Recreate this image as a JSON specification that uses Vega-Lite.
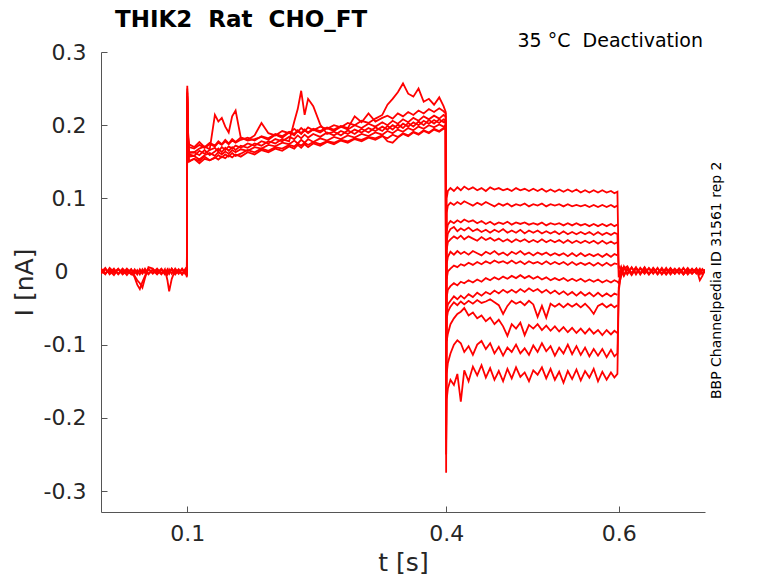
{
  "$schema": "https://vega.github.io/schema/vega-lite/v6.json",
  "width": 604,
  "height": 460,
  "autosize": "none",
  "padding": {"left": 101, "top": 52, "right": 73, "bottom": 71},
  "title": {
    "text": "THIK2\u00a0 Rat\u00a0 CHO_FT",
    "anchor": "start",
    "frame": "group",
    "dx": 14,
    "offset": 0,
    "font": "DejaVu Sans",
    "fontSize": 23,
    "fontWeight": "bold",
    "color": "black"
  },
  "layer": [
    {
      "data": {
        "values": [
          {"t":0,"s1":0.002,"s4":-0.003,"s8":0.004,"s12":-0.001,"s13":0},
          {"t":0.005,"s1":-0.004,"s4":0.003,"s8":-0.002,"s12":0.005,"s13":-0.003},
          {"t":0.01,"s1":0.005,"s4":-0.002,"s8":0.001,"s12":-0.004,"s13":0.003},
          {"t":0.015,"s1":-0.001,"s4":0.004,"s8":-0.005,"s12":0.002,"s13":-0.002},
          {"t":0.02,"s1":0.003,"s4":-0.004,"s8":0.003,"s12":-0.003,"s13":0.004},
          {"t":0.025,"s1":-0.003,"s4":0.002,"s8":-0.001,"s12":0.004,"s13":-0.004},
          {"t":0.03,"s1":0.004,"s4":-0.005,"s8":0.002,"s12":-0.002,"s13":0.001},
          {"t":0.035,"s1":-0.002,"s4":0.003,"s8":-0.004,"s12":0.003,"s13":-0.003},
          {"t":0.039,"s1":0.001,"s4":-0.003,"s8":0.003,"s12":-0.008,"s13":-0.006},
          {"t":0.042,"s1":-0.004,"s4":0.002,"s8":-0.002,"s12":-0.018,"s13":-0.012},
          {"t":0.045,"s1":0.003,"s4":-0.004,"s8":0.001,"s12":-0.024,"s13":-0.016},
          {"t":0.048,"s1":-0.002,"s4":0.003,"s8":-0.003,"s12":-0.014,"s13":-0.022},
          {"t":0.051,"s1":0.004,"s4":-0.002,"s8":0.002,"s12":-0.006,"s13":-0.009},
          {"t":0.055,"s1":-0.003,"s4":0.004,"s8":-0.004,"s12":0.003,"s13":0.006},
          {"t":0.06,"s1":0.002,"s4":-0.003,"s8":0.003,"s12":-0.002,"s13":0.004},
          {"t":0.065,"s1":-0.004,"s4":0.002,"s8":-0.002,"s12":0.004,"s13":-0.003},
          {"t":0.07,"s1":0.003,"s4":-0.004,"s8":0.004,"s12":-0.003,"s13":0.002},
          {"t":0.074,"s1":-0.002,"s4":0.003,"s8":-0.003,"s12":0.002,"s13":-0.004},
          {"t":0.077,"s1":0.002,"s4":-0.012,"s8":0.001,"s12":-0.004,"s13":0.003},
          {"t":0.079,"s1":-0.003,"s4":-0.027,"s8":-0.002,"s12":0.003,"s13":-0.002},
          {"t":0.082,"s1":0.004,"s4":-0.01,"s8":0.003,"s12":-0.003,"s13":0.004},
          {"t":0.086,"s1":-0.002,"s4":0.002,"s8":-0.004,"s12":0.004,"s13":-0.003},
          {"t":0.09,"s1":0.003,"s4":-0.003,"s8":0.002,"s12":-0.002,"s13":0.002},
          {"t":0.094,"s1":-0.004,"s4":0.004,"s8":-0.003,"s12":0.003,"s13":-0.004},
          {"t":0.098,"s1":0.002,"s4":-0.002,"s8":0.004,"s12":-0.004,"s13":0.003},
          {"t":0.0995,"s1":-0.006,"s4":-0.003,"s8":-0.008,"s12":-0.004,"s13":-0.005},
          {"t":0.1,"s1":0.254,"s2":0.246,"s4":0.24,"s6":0.236,"s8":0.244,"s10":0.232,"s12":0.25,"s13":0.238},
          {"t":0.1006,"s1":0.195,"s2":0.18,"s4":0.185,"s6":0.178,"s8":0.19,"s10":0.176,"s12":0.188,"s13":0.172},
          {"t":0.102,"s1":0.174,"s2":0.151,"s4":0.163,"s6":0.157,"s8":0.16,"s10":0.162,"s12":0.17,"s13":0.15},
          {"t":0.108,"s1":0.17,"s2":0.154,"s4":0.163,"s6":0.158,"s8":0.158,"s10":0.163,"s12":0.168,"s13":0.154},
          {"t":0.114,"s1":0.177,"s2":0.148,"s4":0.168,"s6":0.153,"s8":0.165,"s10":0.159,"s12":0.173,"s13":0.151},
          {"t":0.12,"s1":0.17,"s2":0.154,"s4":0.171,"s6":0.159,"s8":0.161,"s10":0.166,"s12":0.169,"s13":0.157},
          {"t":0.126,"s1":0.176,"s2":0.152,"s4":0.167,"s6":0.162,"s8":0.166,"s10":0.159,"s12":0.174,"s13":0.152},
          {"t":0.132,"s1":0.172,"s2":0.156,"s4":0.214,"s6":0.158,"s8":0.169,"s10":0.164,"s12":0.171,"s13":0.155},
          {"t":0.136,"s1":0.178,"s2":0.153,"s4":0.205,"s6":0.163,"s8":0.164,"s10":0.168,"s12":0.176,"s13":0.159},
          {"t":0.14,"s1":0.174,"s2":0.157,"s4":0.21,"s6":0.16,"s8":0.17,"s10":0.163,"s12":0.173,"s13":0.156},
          {"t":0.144,"s1":0.18,"s2":0.155,"s4":0.198,"s6":0.164,"s8":0.166,"s10":0.169,"s12":0.178,"s13":0.16},
          {"t":0.148,"s1":0.175,"s2":0.159,"s4":0.19,"s6":0.161,"s8":0.171,"s10":0.165,"s12":0.174,"s13":0.157},
          {"t":0.152,"s1":0.181,"s2":0.156,"s4":0.212,"s6":0.166,"s8":0.168,"s10":0.17,"s12":0.179,"s13":0.162},
          {"t":0.156,"s1":0.177,"s2":0.16,"s4":0.22,"s6":0.163,"s8":0.172,"s10":0.166,"s12":0.176,"s13":0.158},
          {"t":0.162,"s1":0.183,"s2":0.157,"s4":0.183,"s6":0.167,"s8":0.169,"s10":0.172,"s12":0.18,"s13":0.161},
          {"t":0.17,"s1":0.18,"s2":0.163,"s4":0.179,"s6":0.165,"s8":0.175,"s10":0.169,"s12":0.183,"s13":0.166},
          {"t":0.178,"s1":0.186,"s2":0.16,"s4":0.181,"s6":0.17,"s8":0.172,"s10":0.175,"s12":0.179,"s13":0.163},
          {"t":0.186,"s1":0.203,"s2":0.166,"s4":0.184,"s6":0.168,"s8":0.178,"s10":0.172,"s12":0.185,"s13":0.168},
          {"t":0.194,"s1":0.189,"s2":0.163,"s4":0.18,"s6":0.173,"s8":0.175,"s10":0.178,"s12":0.182,"s13":0.165},
          {"t":0.202,"s1":0.186,"s2":0.168,"s4":0.187,"s6":0.171,"s8":0.181,"s10":0.175,"s12":0.188,"s13":0.17},
          {"t":0.21,"s1":0.192,"s2":0.165,"s4":0.183,"s6":0.176,"s8":0.178,"s10":0.181,"s12":0.185,"s13":0.168},
          {"t":0.218,"s1":0.189,"s2":0.171,"s4":0.19,"s6":0.174,"s8":0.184,"s10":0.178,"s12":0.191,"s13":0.173},
          {"t":0.224,"s1":0.195,"s2":0.168,"s4":0.186,"s6":0.179,"s8":0.181,"s10":0.205,"s12":0.188,"s13":0.171},
          {"t":0.228,"s1":0.191,"s2":0.173,"s4":0.192,"s6":0.175,"s8":0.186,"s10":0.222,"s12":0.193,"s13":0.175},
          {"t":0.232,"s1":0.196,"s2":0.169,"s4":0.188,"s6":0.18,"s8":0.182,"s10":0.247,"s12":0.189,"s13":0.172},
          {"t":0.236,"s1":0.192,"s2":0.174,"s4":0.193,"s6":0.176,"s8":0.187,"s10":0.214,"s12":0.194,"s13":0.176},
          {"t":0.24,"s1":0.197,"s2":0.17,"s4":0.189,"s6":0.181,"s8":0.183,"s10":0.236,"s12":0.19,"s13":0.173},
          {"t":0.246,"s1":0.193,"s2":0.175,"s4":0.194,"s6":0.177,"s8":0.188,"s10":0.226,"s12":0.195,"s13":0.177},
          {"t":0.254,"s1":0.198,"s2":0.172,"s4":0.19,"s6":0.182,"s8":0.184,"s10":0.201,"s12":0.192,"s13":0.174},
          {"t":0.262,"s1":0.195,"s2":0.177,"s4":0.196,"s6":0.179,"s8":0.19,"s10":0.188,"s12":0.197,"s13":0.178},
          {"t":0.27,"s1":0.2,"s2":0.174,"s4":0.192,"s6":0.184,"s8":0.186,"s10":0.191,"s12":0.194,"s13":0.176},
          {"t":0.278,"s1":0.197,"s2":0.179,"s4":0.198,"s6":0.181,"s8":0.192,"s10":0.186,"s12":0.199,"s13":0.18},
          {"t":0.286,"s1":0.203,"s2":0.176,"s4":0.194,"s6":0.186,"s8":0.188,"s10":0.193,"s12":0.196,"s13":0.178},
          {"t":0.294,"s1":0.2,"s2":0.181,"s4":0.2,"s6":0.183,"s8":0.194,"s10":0.188,"s12":0.212,"s13":0.182},
          {"t":0.302,"s1":0.206,"s2":0.178,"s4":0.196,"s6":0.188,"s8":0.19,"s10":0.195,"s12":0.204,"s13":0.18},
          {"t":0.31,"s1":0.203,"s2":0.183,"s4":0.202,"s6":0.185,"s8":0.196,"s10":0.19,"s12":0.216,"s13":0.184},
          {"t":0.318,"s1":0.209,"s2":0.18,"s4":0.198,"s6":0.19,"s8":0.192,"s10":0.197,"s12":0.205,"s13":0.182},
          {"t":0.326,"s1":0.214,"s2":0.185,"s4":0.204,"s6":0.187,"s8":0.198,"s10":0.192,"s12":0.21,"s13":0.186},
          {"t":0.332,"s1":0.228,"s2":0.182,"s4":0.2,"s6":0.192,"s8":0.194,"s10":0.199,"s12":0.213,"s13":0.178},
          {"t":0.338,"s1":0.236,"s2":0.187,"s4":0.206,"s6":0.189,"s8":0.2,"s10":0.194,"s12":0.209,"s13":0.176},
          {"t":0.344,"s1":0.245,"s2":0.184,"s4":0.202,"s6":0.194,"s8":0.196,"s10":0.201,"s12":0.216,"s13":0.183},
          {"t":0.35,"s1":0.257,"s2":0.189,"s4":0.208,"s6":0.191,"s8":0.202,"s10":0.196,"s12":0.212,"s13":0.188},
          {"t":0.356,"s1":0.243,"s2":0.186,"s4":0.204,"s6":0.196,"s8":0.198,"s10":0.203,"s12":0.218,"s13":0.185},
          {"t":0.362,"s1":0.239,"s2":0.191,"s4":0.21,"s6":0.193,"s8":0.204,"s10":0.198,"s12":0.214,"s13":0.19},
          {"t":0.368,"s1":0.25,"s2":0.188,"s4":0.206,"s6":0.198,"s8":0.2,"s10":0.205,"s12":0.22,"s13":0.187},
          {"t":0.374,"s1":0.232,"s2":0.193,"s4":0.212,"s6":0.195,"s8":0.206,"s10":0.2,"s12":0.216,"s13":0.192},
          {"t":0.38,"s1":0.236,"s2":0.19,"s4":0.208,"s6":0.2,"s8":0.202,"s10":0.207,"s12":0.222,"s13":0.189},
          {"t":0.386,"s1":0.228,"s2":0.195,"s4":0.213,"s6":0.197,"s8":0.207,"s10":0.202,"s12":0.218,"s13":0.194},
          {"t":0.392,"s1":0.238,"s2":0.192,"s4":0.209,"s6":0.201,"s8":0.203,"s10":0.208,"s12":0.223,"s13":0.191},
          {"t":0.397,"s1":0.226,"s2":0.196,"s4":0.214,"s6":0.198,"s8":0.208,"s10":0.204,"s12":0.219,"s13":0.195},
          {"t":0.3995,"s1":0.218,"s2":0.194,"s4":0.212,"s6":0.2,"s8":0.206,"s10":0.205,"s12":0.216,"s13":0.197},
          {"t":0.4,"s1":-0.275,"s2":-0.21,"s4":-0.17,"s6":-0.15,"s8":-0.19,"s10":-0.16,"s12":-0.23,"s13":-0.25},
          {"t":0.4006,"s1":0.1,"s2":0.08,"s3":0.055,"s4":0.04,"s5":0.03,"s6":0.01,"s7":-0.01,"s8":-0.035,"s9":-0.055,"s10":-0.065,"s11":-0.095,"s12":-0.14,"s13":-0.175},
          {"t":0.402,"s1":0.11,"s2":0.09,"s3":0.064,"s4":0.052,"s5":0.04,"s6":0.02,"s7":0,"s8":-0.025,"s9":-0.045,"s10":-0.055,"s11":-0.085,"s12":-0.125,"s13":-0.16},
          {"t":0.405,"s1":0.114,"s2":0.094,"s3":0.069,"s4":0.058,"s5":0.044,"s6":0.027,"s7":0.004,"s8":-0.02,"s9":-0.04,"s10":-0.048,"s11":-0.072,"s12":-0.112,"s13":-0.148},
          {"t":0.409,"s1":0.11,"s2":0.091,"s3":0.066,"s4":0.061,"s5":0.048,"s6":0.023,"s7":0.008,"s8":-0.016,"s9":-0.034,"s10":-0.042,"s11":-0.064,"s12":-0.1,"s13":-0.155},
          {"t":0.413,"s1":0.115,"s2":0.095,"s3":0.07,"s4":0.055,"s5":0.045,"s6":0.028,"s7":0.006,"s8":-0.019,"s9":-0.038,"s10":-0.046,"s11":-0.058,"s12":-0.094,"s13":-0.14},
          {"t":0.417,"s1":0.111,"s2":0.092,"s3":0.067,"s4":0.059,"s5":0.049,"s6":0.024,"s7":0.01,"s8":-0.014,"s9":-0.033,"s10":-0.041,"s11":-0.055,"s12":-0.098,"s13":-0.178},
          {"t":0.421,"s1":0.116,"s2":0.096,"s3":0.071,"s4":0.056,"s5":0.044,"s6":0.027,"s7":0.008,"s8":-0.016,"s9":-0.037,"s10":-0.045,"s11":-0.05,"s12":-0.11,"s13":-0.135},
          {"t":0.426,"s1":0.112,"s2":0.093,"s3":0.068,"s4":0.06,"s5":0.048,"s6":0.023,"s7":0.012,"s8":-0.012,"s9":-0.031,"s10":-0.04,"s11":-0.06,"s12":-0.102,"s13":-0.15},
          {"t":0.431,"s1":0.115,"s2":0.09,"s3":0.07,"s4":0.055,"s5":0.045,"s6":0.028,"s7":0.009,"s8":-0.015,"s9":-0.035,"s10":-0.044,"s11":-0.056,"s12":-0.114,"s13":-0.13},
          {"t":0.436,"s1":0.111,"s2":0.094,"s3":0.066,"s4":0.058,"s5":0.042,"s6":0.025,"s7":0.013,"s8":-0.011,"s9":-0.029,"s10":-0.039,"s11":-0.064,"s12":-0.1,"s13":-0.142},
          {"t":0.441,"s1":0.114,"s2":0.091,"s3":0.069,"s4":0.054,"s5":0.047,"s6":0.022,"s7":0.01,"s8":-0.014,"s9":-0.033,"s10":-0.043,"s11":-0.06,"s12":-0.095,"s13":-0.128},
          {"t":0.446,"s1":0.11,"s2":0.095,"s3":0.065,"s4":0.057,"s5":0.043,"s6":0.027,"s7":0.014,"s8":-0.009,"s9":-0.028,"s10":-0.041,"s11":-0.068,"s12":-0.106,"s13":-0.145},
          {"t":0.451,"s1":0.115,"s2":0.092,"s3":0.068,"s4":0.053,"s5":0.046,"s6":0.024,"s7":0.011,"s8":-0.012,"s9":-0.031,"s10":-0.038,"s11":-0.063,"s12":-0.098,"s13":-0.132},
          {"t":0.456,"s1":0.112,"s2":0.089,"s3":0.064,"s4":0.057,"s5":0.042,"s6":0.028,"s7":0.015,"s8":-0.008,"s9":-0.026,"s10":-0.042,"s11":-0.072,"s12":-0.112,"s13":-0.148},
          {"t":0.461,"s1":0.114,"s2":0.093,"s3":0.067,"s4":0.054,"s5":0.045,"s6":0.023,"s7":0.012,"s8":-0.011,"s9":-0.03,"s10":-0.046,"s11":-0.066,"s12":-0.103,"s13":-0.136},
          {"t":0.466,"s1":0.111,"s2":0.09,"s3":0.065,"s4":0.058,"s5":0.041,"s6":0.026,"s7":0.014,"s8":-0.007,"s9":-0.025,"s10":-0.058,"s11":-0.075,"s12":-0.115,"s13":-0.15},
          {"t":0.471,"s1":0.113,"s2":0.093,"s3":0.068,"s4":0.053,"s5":0.044,"s6":0.022,"s7":0.011,"s8":-0.01,"s9":-0.029,"s10":-0.047,"s11":-0.088,"s12":-0.104,"s13":-0.133},
          {"t":0.476,"s1":0.11,"s2":0.089,"s3":0.064,"s4":0.056,"s5":0.04,"s6":0.027,"s7":0.015,"s8":-0.006,"s9":-0.025,"s10":-0.04,"s11":-0.072,"s12":-0.11,"s13":-0.146},
          {"t":0.481,"s1":0.114,"s2":0.092,"s3":0.067,"s4":0.053,"s5":0.044,"s6":0.024,"s7":0.011,"s8":-0.009,"s9":-0.029,"s10":-0.044,"s11":-0.078,"s12":-0.1,"s13":-0.131},
          {"t":0.486,"s1":0.111,"s2":0.09,"s3":0.065,"s4":0.057,"s5":0.041,"s6":0.028,"s7":0.014,"s8":-0.005,"s9":-0.024,"s10":-0.041,"s11":-0.07,"s12":-0.112,"s13":-0.144},
          {"t":0.491,"s1":0.113,"s2":0.093,"s3":0.067,"s4":0.052,"s5":0.044,"s6":0.023,"s7":0.01,"s8":-0.009,"s9":-0.028,"s10":-0.046,"s11":-0.087,"s12":-0.105,"s13":-0.138},
          {"t":0.496,"s1":0.11,"s2":0.089,"s3":0.064,"s4":0.056,"s5":0.04,"s6":0.026,"s7":0.014,"s8":-0.006,"s9":-0.023,"s10":-0.04,"s11":-0.073,"s12":-0.114,"s13":-0.15},
          {"t":0.501,"s1":0.113,"s2":0.092,"s3":0.066,"s4":0.053,"s5":0.043,"s6":0.022,"s7":0.011,"s8":-0.01,"s9":-0.027,"s10":-0.045,"s11":-0.078,"s12":-0.101,"s13":-0.135},
          {"t":0.506,"s1":0.11,"s2":0.09,"s3":0.064,"s4":0.056,"s5":0.04,"s6":0.026,"s7":0.013,"s8":-0.007,"s9":-0.024,"s10":-0.062,"s11":-0.072,"s12":-0.11,"s13":-0.141},
          {"t":0.511,"s1":0.113,"s2":0.093,"s3":0.067,"s4":0.052,"s5":0.044,"s6":0.023,"s7":0.01,"s8":-0.011,"s9":-0.029,"s10":-0.047,"s11":-0.08,"s12":-0.098,"s13":-0.131},
          {"t":0.516,"s1":0.109,"s2":0.089,"s3":0.063,"s4":0.055,"s5":0.04,"s6":0.026,"s7":0.014,"s8":-0.008,"s9":-0.025,"s10":-0.063,"s11":-0.074,"s12":-0.109,"s13":-0.146},
          {"t":0.521,"s1":0.112,"s2":0.092,"s3":0.066,"s4":0.052,"s5":0.043,"s6":0.022,"s7":0.01,"s8":-0.012,"s9":-0.03,"s10":-0.044,"s11":-0.081,"s12":-0.102,"s13":-0.133},
          {"t":0.526,"s1":0.109,"s2":0.09,"s3":0.064,"s4":0.055,"s5":0.04,"s6":0.025,"s7":0.013,"s8":-0.009,"s9":-0.026,"s10":-0.048,"s11":-0.075,"s12":-0.115,"s13":-0.148},
          {"t":0.531,"s1":0.112,"s2":0.092,"s3":0.066,"s4":0.051,"s5":0.043,"s6":0.022,"s7":0.01,"s8":-0.012,"s9":-0.031,"s10":-0.044,"s11":-0.082,"s12":-0.104,"s13":-0.137},
          {"t":0.536,"s1":0.109,"s2":0.089,"s3":0.063,"s4":0.055,"s5":0.039,"s6":0.025,"s7":0.013,"s8":-0.009,"s9":-0.027,"s10":-0.049,"s11":-0.076,"s12":-0.112,"s13":-0.152},
          {"t":0.541,"s1":0.112,"s2":0.092,"s3":0.066,"s4":0.051,"s5":0.043,"s6":0.021,"s7":0.009,"s8":-0.013,"s9":-0.032,"s10":-0.044,"s11":-0.083,"s12":-0.1,"s13":-0.136},
          {"t":0.546,"s1":0.109,"s2":0.089,"s3":0.063,"s4":0.054,"s5":0.039,"s6":0.025,"s7":0.013,"s8":-0.01,"s9":-0.028,"s10":-0.048,"s11":-0.077,"s12":-0.113,"s13":-0.147},
          {"t":0.551,"s1":0.112,"s2":0.091,"s3":0.066,"s4":0.051,"s5":0.042,"s6":0.021,"s7":0.009,"s8":-0.013,"s9":-0.033,"s10":-0.044,"s11":-0.084,"s12":-0.102,"s13":-0.134},
          {"t":0.556,"s1":0.108,"s2":0.089,"s3":0.063,"s4":0.054,"s5":0.039,"s6":0.025,"s7":0.012,"s8":-0.01,"s9":-0.028,"s10":-0.049,"s11":-0.078,"s12":-0.114,"s13":-0.149},
          {"t":0.561,"s1":0.111,"s2":0.091,"s3":0.065,"s4":0.051,"s5":0.042,"s6":0.021,"s7":0.009,"s8":-0.014,"s9":-0.033,"s10":-0.044,"s11":-0.085,"s12":-0.104,"s13":-0.136},
          {"t":0.566,"s1":0.108,"s2":0.088,"s3":0.062,"s4":0.054,"s5":0.039,"s6":0.024,"s7":0.012,"s8":-0.011,"s9":-0.029,"s10":-0.05,"s11":-0.078,"s12":-0.116,"s13":-0.145},
          {"t":0.571,"s1":0.111,"s2":0.091,"s3":0.065,"s4":0.05,"s5":0.042,"s6":0.021,"s7":0.008,"s8":-0.014,"s9":-0.034,"s10":-0.058,"s11":-0.085,"s12":-0.106,"s13":-0.133},
          {"t":0.576,"s1":0.108,"s2":0.088,"s3":0.062,"s4":0.054,"s5":0.038,"s6":0.024,"s7":0.012,"s8":-0.011,"s9":-0.029,"s10":-0.047,"s11":-0.08,"s12":-0.115,"s13":-0.15},
          {"t":0.581,"s1":0.111,"s2":0.091,"s3":0.065,"s4":0.05,"s5":0.042,"s6":0.02,"s7":0.008,"s8":-0.015,"s9":-0.034,"s10":-0.044,"s11":-0.087,"s12":-0.106,"s13":-0.137},
          {"t":0.586,"s1":0.108,"s2":0.088,"s3":0.062,"s4":0.053,"s5":0.038,"s6":0.024,"s7":0.012,"s8":-0.012,"s9":-0.03,"s10":-0.049,"s11":-0.08,"s12":-0.117,"s13":-0.148},
          {"t":0.591,"s1":0.11,"s2":0.091,"s3":0.065,"s4":0.05,"s5":0.041,"s6":0.02,"s7":0.008,"s8":-0.015,"s9":-0.034,"s10":-0.045,"s11":-0.086,"s12":-0.107,"s13":-0.138},
          {"t":0.595,"s1":0.107,"s2":0.088,"s3":0.062,"s4":0.053,"s5":0.038,"s6":0.024,"s7":0.011,"s8":-0.012,"s9":-0.03,"s10":-0.049,"s11":-0.081,"s12":-0.116,"s13":-0.145},
          {"t":0.5985,"s1":0.109,"s2":0.09,"s3":0.064,"s4":0.051,"s5":0.04,"s6":0.022,"s7":0.01,"s8":-0.014,"s9":-0.032,"s10":-0.046,"s11":-0.084,"s12":-0.112,"s13":-0.14},
          {"t":0.6,"s1":0.004,"s4":-0.008,"s8":-0.016,"s12":-0.022,"s13":-0.027},
          {"t":0.601,"s1":0.008,"s4":-0.003,"s8":-0.01,"s12":-0.015,"s13":-0.018},
          {"t":0.603,"s1":-0.004,"s4":0.006,"s8":0.003,"s12":-0.006,"s13":0.002},
          {"t":0.606,"s1":0.007,"s4":-0.005,"s8":0.006,"s12":0.004,"s13":-0.006},
          {"t":0.61,"s1":-0.003,"s4":0.005,"s8":-0.004,"s12":0.007,"s13":0.003},
          {"t":0.615,"s1":0.006,"s4":-0.002,"s8":0.005,"s12":-0.003,"s13":-0.005},
          {"t":0.62,"s1":-0.004,"s4":0.006,"s8":-0.002,"s12":0.005,"s13":0.004},
          {"t":0.625,"s1":0.005,"s4":-0.004,"s8":0.004,"s12":-0.002,"s13":-0.003},
          {"t":0.63,"s1":-0.002,"s4":0.005,"s8":-0.003,"s12":0.006,"s13":0.002},
          {"t":0.635,"s1":0.004,"s4":-0.003,"s8":0.005,"s12":-0.004,"s13":-0.004},
          {"t":0.64,"s1":-0.003,"s4":0.004,"s8":-0.002,"s12":0.003,"s13":0.005},
          {"t":0.645,"s1":0.005,"s4":-0.004,"s8":0.004,"s12":-0.003,"s13":-0.002},
          {"t":0.65,"s1":-0.004,"s4":0.003,"s8":-0.003,"s12":0.005,"s13":0.003},
          {"t":0.655,"s1":0.003,"s4":-0.002,"s8":0.005,"s12":-0.004,"s13":-0.004},
          {"t":0.66,"s1":-0.002,"s4":0.005,"s8":-0.004,"s12":0.002,"s13":0.004},
          {"t":0.665,"s1":0.004,"s4":-0.003,"s8":0.003,"s12":-0.003,"s13":-0.002},
          {"t":0.67,"s1":-0.003,"s4":0.004,"s8":-0.002,"s12":0.004,"s13":0.003},
          {"t":0.675,"s1":0.005,"s4":-0.004,"s8":0.004,"s12":-0.002,"s13":-0.004},
          {"t":0.68,"s1":-0.004,"s4":0.003,"s8":-0.003,"s12":0.005,"s13":0.002},
          {"t":0.685,"s1":0.003,"s4":-0.002,"s8":0.004,"s12":-0.003,"s13":-0.003},
          {"t":0.69,"s1":-0.002,"s4":0.004,"s8":-0.003,"s12":0.003,"s13":0.004},
          {"t":0.694,"s1":0.004,"s4":-0.012,"s8":0.002,"s12":-0.004,"s13":-0.002},
          {"t":0.697,"s1":-0.003,"s4":-0.006,"s8":-0.004,"s12":0.003,"s13":0.003},
          {"t":0.7,"s1":0.002,"s4":0.003,"s8":0.002,"s12":-0.002,"s13":-0.001}
        ]
      },
      "transform": [
        {"fold": ["s1","s2","s3","s4","s5","s6","s7","s8","s9","s10","s11","s12","s13"], "as": ["sweep","I"]},
        {"filter": "isValid(datum.I)"}
      ],
      "mark": {"type": "line", "color": "#ff0000", "strokeWidth": 1.8, "clip": true},
      "encoding": {
        "x": {
          "field": "t",
          "type": "quantitative",
          "scale": {"domain": [0, 0.7], "nice": false, "zero": false},
          "axis": {
            "title": "t [s]",
            "values": [0.1, 0.4, 0.6],
            "format": ".1f",
            "grid": false,
            "tickSize": -6,
            "labelPadding": 17,
            "labelFont": "DejaVu Sans",
            "labelFontSize": 22,
            "labelColor": "#262626",
            "titleFont": "DejaVu Sans",
            "titleFontSize": 25,
            "titleFontWeight": "normal",
            "titleColor": "#262626",
            "titlePadding": 6,
            "domainColor": "#555555",
            "tickColor": "#555555"
          }
        },
        "y": {
          "field": "I",
          "type": "quantitative",
          "scale": {"domain": [-0.3287, 0.3], "nice": false, "zero": false},
          "axis": {
            "title": "I [nA]",
            "values": [-0.3, -0.2, -0.1, 0, 0.1, 0.2, 0.3],
            "labelExpr": "datum.value == 0 ? '0' : replace(format(datum.value, '.1f'), '\u2212', '-')",
            "grid": false,
            "tickSize": -6,
            "labelPadding": {"condition": {"test": "datum.value == 0", "value": 39}, "value": 21},
            "labelFont": "DejaVu Sans",
            "labelFontSize": 22,
            "labelColor": "#262626",
            "titleFont": "DejaVu Sans",
            "titleFontSize": 25,
            "titleFontWeight": "normal",
            "titleColor": "#262626",
            "titlePadding": 6,
            "domainColor": "#555555",
            "tickColor": "#555555"
          }
        },
        "detail": {"field": "sweep"}
      }
    },
    {
      "data": {"values": [{}]},
      "mark": {
        "type": "text",
        "text": "35 °C\u00a0 Deactivation",
        "align": "right",
        "baseline": "alphabetic",
        "dx": -2,
        "dy": -5,
        "font": "DejaVu Sans",
        "fontSize": 19,
        "color": "black"
      },
      "encoding": {
        "x": {"datum": 0.7, "type": "quantitative"},
        "y": {"datum": 0.3, "type": "quantitative"}
      }
    },
    {
      "data": {"values": [{}]},
      "mark": {
        "type": "text",
        "text": "BBP Channelpedia ID 31561 rep 2",
        "align": "center",
        "baseline": "middle",
        "angle": 270,
        "dy": 12,
        "font": "DejaVu Sans",
        "fontSize": 14,
        "color": "black"
      },
      "encoding": {
        "x": {"datum": 0.7, "type": "quantitative"},
        "y": {"datum": -0.012, "type": "quantitative"}
      }
    }
  ],
  "config": {
    "view": {"stroke": null},
    "font": "DejaVu Sans"
  }
}
